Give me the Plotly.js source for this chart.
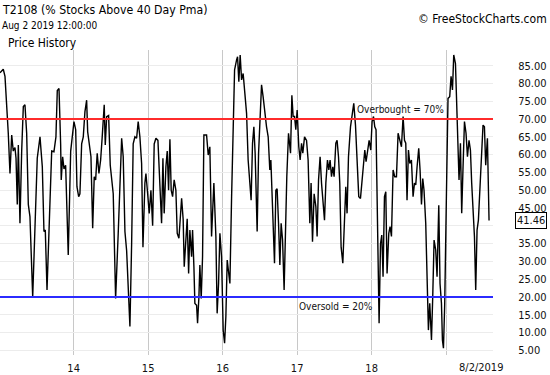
<!DOCTYPE html>
<html>
<head>
<meta charset="utf-8">
<script src="https://cdn.plot.ly/plotly-3.0.1.min.js"></script>
<style>html,body{margin:0;padding:0;background:#fff;}#chart{width:550px;height:375px;}</style>
</head>
<body>
<div id="chart"></div>
<script>
// T2108 (% of stocks above 40-day moving average); x in decimal years
const years = [
2013.011,2013.055,2013.078,2013.101,2013.122,2013.145,2013.168,2013.189,2013.212,2013.226,
2013.243,2013.257,2013.279,2013.302,2013.324,2013.346,2013.369,2013.391,2013.413,2013.450,
2013.481,2013.511,2013.548,2013.579,2013.601,2013.619,2013.642,2013.672,2013.705,2013.735,
2013.762,2013.780,2013.803,2013.825,2013.833,2013.852,2013.870,2013.892,2013.927,2013.960,
2013.986,2014.004,2014.027,2014.044,2014.067,2014.084,2014.107,2014.129,2014.151,2014.174,
2014.188,2014.209,2014.232,2014.255,2014.276,2014.295,2014.316,2014.339,2014.362,2014.383,
2014.410,2014.424,2014.443,2014.469,2014.491,2014.531,2014.563,2014.598,2014.644,2014.665,
2014.688,2014.711,2014.732,2014.755,2014.778,2014.799,2014.822,2014.845,2014.866,2014.889,
2014.912,2014.930,2014.956,2014.970,2014.993,2015.014,2015.037,2015.060,2015.081,2015.104,
2015.131,2015.158,2015.180,2015.198,2015.215,2015.238,2015.256,2015.274,2015.292,2015.309,
2015.328,2015.349,2015.372,2015.390,2015.413,2015.449,2015.470,2015.484,2015.506,2015.524,
2015.543,2015.560,2015.583,2015.596,2015.614,2015.627,2015.650,2015.663,2015.681,2015.694,
2015.712,2015.730,2015.748,2015.784,2015.806,2015.828,2015.851,2015.882,2015.909,2015.926,
2015.945,2015.963,2015.985,2016.007,2016.026,2016.043,2016.061,2016.079,2016.097,2016.120,
2016.141,2016.160,2016.187,2016.200,2016.217,2016.235,2016.254,2016.275,2016.298,2016.321,
2016.342,2016.365,2016.382,2016.401,2016.419,2016.436,2016.463,2016.482,2016.499,2016.522,
2016.543,2016.566,2016.589,2016.611,2016.633,2016.647,2016.664,2016.678,2016.696,2016.714,
2016.731,2016.750,2016.768,2016.785,2016.804,2016.825,2016.844,2016.861,2016.884,2016.911,
2016.929,2016.946,2016.965,2016.982,2017.000,2017.022,2017.040,2017.059,2017.076,2017.099,
2017.126,2017.147,2017.170,2017.187,2017.206,2017.228,2017.251,2017.268,2017.287,2017.308,
2017.327,2017.348,2017.367,2017.385,2017.407,2017.425,2017.442,2017.461,2017.479,2017.496,
2017.519,2017.536,2017.555,2017.572,2017.590,2017.613,2017.636,2017.653,2017.670,2017.689,
2017.716,2017.738,2017.760,2017.783,2017.805,2017.827,2017.850,2017.872,2017.890,2017.908,
2017.925,2017.944,2017.966,2017.988,2018.006,2018.025,2018.042,2018.059,2018.073,2018.086,
2018.100,2018.119,2018.136,2018.153,2018.172,2018.190,2018.207,2018.230,2018.247,2018.266,
2018.288,2018.310,2018.333,2018.355,2018.377,2018.400,2018.422,2018.441,2018.458,2018.475,
2018.494,2018.512,2018.534,2018.556,2018.575,2018.592,2018.610,2018.632,2018.650,2018.669,
2018.686,2018.703,2018.726,2018.744,2018.762,2018.780,2018.803,2018.820,2018.838,2018.860,
2018.878,2018.901,2018.918,2018.937,2018.950,2018.964,2018.981,2019.004,2019.025,2019.048,
2019.066,2019.085,2019.102,2019.125,2019.142,2019.160,2019.173,2019.192,2019.209,2019.227,
2019.246,2019.267,2019.286,2019.307,2019.326,2019.343,2019.361,2019.380,2019.397,2019.415,
2019.433,2019.451,2019.474,2019.495,2019.514,2019.531,2019.554,2019.576
];
const t2108 = [
83,84,82,75,66,54.7,65.5,61,62,59,
46,62.7,40.7,61,73.5,74,66,46,42.6,20,
37,59,65,56.6,38.4,38.8,22,42.6,61,60.8,
65,78,78.6,63,52.9,59.4,56,57,31.8,61,
65,69.3,67,51,48.2,49,63,65,72,75.3,
66.4,62.2,59.4,39.3,53.8,52.9,60.4,54.7,58.5,65,
74,62.7,70.7,71,57,49,19.6,37.9,64.6,59.4,
38.4,33,23.8,11.7,35,63,65,64.6,69.3,65,
57.5,34,52,54.7,49,43.5,50,40,63,64.6,
64,49,40.7,59,43.5,56.6,61,50,64.3,50,
48.2,52.9,50,37.9,36.5,47.7,41.7,28.5,36,42,
26.6,38.8,31.3,38.8,28.5,18.2,17.7,12.6,20,29,
19.6,31.3,65.5,65.5,59.9,62.2,37,52,37,15.4,
23.8,37.9,31.3,10.7,7,14.5,30.4,27.6,23.8,48.2,
70.7,83.8,86.6,87.5,80.5,88,81,82.8,77.2,71.6,
58.5,51,47.2,63.2,67.8,60.4,38.4,60.4,67,79.6,
76.3,71.6,67.8,65,55.7,58.5,47.2,37.9,29.5,50,
50.4,40.7,29,40.7,36,22,42.6,53.8,66,60.4,
76.7,70.7,70.7,67,72.5,62.2,58.5,63.2,60.4,65,
64,58.5,40.7,52,35.5,49,45.4,37,52.9,59.4,
52,47.2,41.6,52,58.5,55.7,58.5,53.8,56.6,53.8,
63.2,64,59.4,52,34,29.5,45.4,51,43.5,59.4,
67.8,72,74.4,68.3,58.5,48.2,47.7,53.8,58.5,61.3,
58,61.3,64,61.3,69.3,70.7,67.8,67,47.2,20,
12.6,35,37.4,25.7,48.2,49.6,26.6,37.9,39.8,37,
55.7,53.8,53.8,66,64,62.2,70.7,64,63.2,47.2,
61.3,57.5,58.5,48.2,52,51.5,56.6,61.8,55.7,46,
53.3,50,40.7,28.5,10.7,18.2,7.9,20,36,33.2,
25.7,45.8,23.8,18.2,7.9,5.6,18.2,49,75.8,76.3,
82,78.2,88,85.6,75.3,63.2,52.9,63.2,43.5,56.6,
69.3,66,59.4,64,61.3,52,45.4,37,22,38.8,
41.6,49,59.4,68.3,67.8,57,64.6,41.46
];
const yearTicks = [2014, 2015, 2016, 2017, 2018, 2019];
const yearLabels = ["14", "15", "16", "17", "18", ""];
const levelTicks = [5,10,15,20,25,30,35,40,45,50,55,60,65,70,75,80,85];
const overbought = 70;
const oversold = 20;
const lastDateLabel = "8/2/2019";
const lastValue = 41.46;

const FONT = "DejaVu Sans Condensed, DejaVu Sans, sans-serif";
const levelLabels = levelTicks.map(v => v === 40 ? "" : v.toFixed(2));

const trace = {
  x: years, y: t2108, type: 'scatter', mode: 'lines',
  line: {color: '#000000', width: 1.4},
  hoverinfo: 'skip', showlegend: false
};

const layout = {
  width: 550, height: 375,
  margin: {l: 0, r: 57, t: 50, b: 20, pad: 0},
  paper_bgcolor: '#ffffff', plot_bgcolor: '#ffffff',
  showlegend: false,
  xaxis: {
    type: 'linear', range: [2013.011, 2019.629],
    tickvals: yearTicks, ticktext: yearLabels,
    showgrid: true, gridcolor: '#c8c8c8', gridwidth: 1,
    zeroline: false, showline: false,
    ticks: 'outside', ticklen: 3, tickcolor: 'rgba(0,0,0,0)',
    tickfont: {family: FONT, size: 11, color: '#111'}
  },
  yaxis: {
    side: 'right', range: [3.7, 89.4],
    tickvals: levelTicks, ticktext: levelLabels,
    showgrid: true, gridcolor: '#ececec', gridwidth: 1,
    zeroline: false, showline: false,
    ticks: 'outside', ticklen: 22, tickcolor: 'rgba(0,0,0,0)',
    tickfont: {family: FONT, size: 11, color: '#111'}
  },
  shapes: [
    {type: 'line', xref: 'paper', x0: 0, x1: 1, yref: 'y', y0: overbought, y1: overbought,
     line: {color: '#ff2b2b', width: 2}, layer: 'above'},
    {type: 'line', xref: 'paper', x0: 0, x1: 1, yref: 'y', y0: oversold, y1: oversold,
     line: {color: '#2b2bff', width: 2}, layer: 'above'}
  ],
  annotations: [
    {text: 'T2108 (% Stocks Above 40 Day Pma)', xref: 'paper', yref: 'paper', x: 0, y: 1.131,
     xanchor: 'left', yanchor: 'middle', showarrow: false, font: {family: FONT, size: 12.2, color: '#000'}},
    {text: 'Aug 2 2019 12:00:00', xref: 'paper', yref: 'paper', x: 0, y: 1.079,
     xanchor: 'left', yanchor: 'middle', showarrow: false, font: {family: FONT, size: 10, color: '#000'}},
    {text: 'Price History', xref: 'paper', yref: 'paper', x: 0.013, y: 1.023,
     xanchor: 'left', yanchor: 'middle', showarrow: false, font: {family: FONT, size: 12, color: '#000'}},
    {text: '© FreeStockCharts.com', xref: 'paper', yref: 'paper', x: 1.113, y: 1.1016,
     xanchor: 'right', yanchor: 'middle', showarrow: false, font: {family: FONT, size: 12, color: '#000'}},
    {text: 'Overbought = ' + overbought + '%', xref: 'x', yref: 'y', x: 2017.774, y: 72.8,
     xanchor: 'left', yanchor: 'middle', showarrow: false, font: {family: FONT, size: 10, color: '#111'}},
    {text: 'Oversold = ' + oversold + '%', xref: 'x', yref: 'y', x: 2016.992, y: 17.3,
     xanchor: 'left', yanchor: 'middle', showarrow: false, font: {family: FONT, size: 10, color: '#111'}},
    {text: lastDateLabel, xref: 'x', yref: 'paper', x: 2019.464, y: -0.042,
     xanchor: 'center', yanchor: 'middle', showarrow: false, font: {family: FONT, size: 11, color: '#111'}},
    {text: lastValue.toFixed(2), xref: 'paper', yref: 'y', x: 1, y: lastValue, xshift: 22,
     xanchor: 'left', yanchor: 'middle', showarrow: false, bgcolor: '#ffffff',
     bordercolor: '#000000', borderwidth: 1, borderpad: 1,
     font: {family: FONT, size: 11, color: '#111'}}
  ]
};

Plotly.newPlot('chart', [trace], layout, {staticPlot: true, displayModeBar: false});
</script>
</body>
</html>
